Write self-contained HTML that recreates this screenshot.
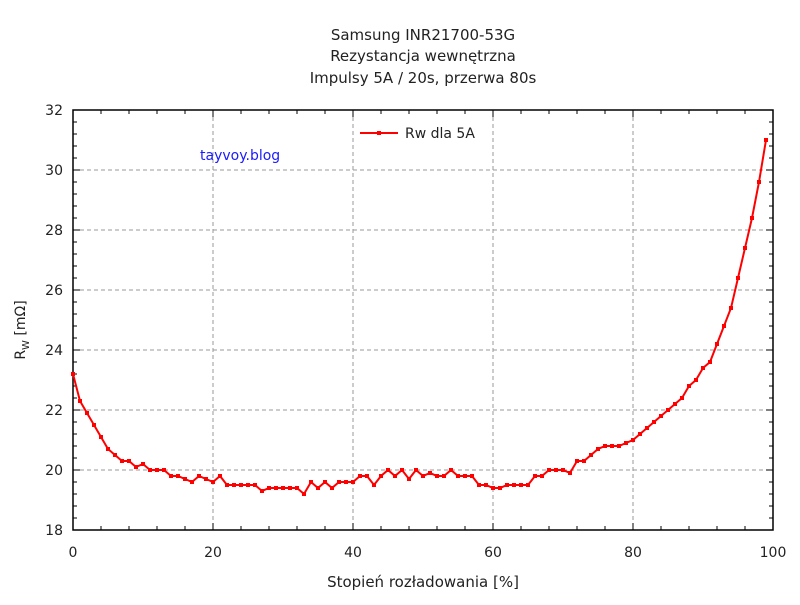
<!DOCTYPE html><html><head><style>body{margin:0;background:#fff}svg{font-family:"DejaVu Sans","Liberation Sans",sans-serif}</style></head><body>
<svg id="s" width="800" height="600" xmlns="http://www.w3.org/2000/svg">
<rect width="800" height="600" fill="#fff"/>
<g font-size="15" fill="#222" text-anchor="middle">
<text x="423" y="40">Samsung INR21700-53G</text>
<text x="423" y="61">Rezystancja wewnętrzna</text>
<text x="423" y="83">Impulsy 5A / 20s, przerwa 80s</text>
<text x="423" y="587">Stopień rozładowania [%]</text>
</g>
<text transform="translate(25,330) rotate(-90)" font-size="14" fill="#222" text-anchor="middle">R<tspan font-size="10" dy="4">W</tspan><tspan dy="-4"> [mΩ]</tspan></text>
<g id="grid" stroke="#999" stroke-dasharray="4,3" stroke-width="1"></g>
<g id="ticks" stroke="#000" stroke-width="1"></g>
<g id="lab" font-size="14" fill="#222"></g>
<rect x="73" y="110" width="700" height="420" fill="none" stroke="#000" stroke-width="1.5"/>
<text x="200" y="160" font-size="14" fill="#1a1aff">tayvoy.blog</text>
<line x1="360" y1="133" x2="398" y2="133" stroke="#f00" stroke-width="2"/>
<rect x="377" y="131" width="4" height="4" fill="#f00"/>
<text x="405" y="138" font-size="14" fill="#222">Rw dla 5A</text>
<polyline id="pl" fill="none" stroke="#f00" stroke-width="2"/>
<g id="mk" fill="#f00"></g>
</svg>
<script>
var d=[23.2,22.3,21.9,21.5,21.1,20.7,20.5,20.3,20.3,20.1,20.2,20.0,20.0,20.0,19.8,19.8,19.7,19.6,19.8,19.7,19.6,19.8,19.5,19.5,19.5,19.5,19.5,19.3,19.4,19.4,19.4,19.4,19.4,19.2,19.6,19.4,19.6,19.4,19.6,19.6,19.6,19.8,19.8,19.5,19.8,20.0,19.8,20.0,19.7,20.0,19.8,19.9,19.8,19.8,20.0,19.8,19.8,19.8,19.5,19.5,19.4,19.4,19.5,19.5,19.5,19.5,19.8,19.8,20.0,20.0,20.0,19.9,20.3,20.3,20.5,20.7,20.8,20.8,20.8,20.9,21.0,21.2,21.4,21.6,21.8,22.0,22.2,22.4,22.8,23.0,23.4,23.6,24.2,24.8,25.4,26.4,27.4,28.4,29.6,31.0];
var NS="http://www.w3.org/2000/svg";
function el(p,t,a,txt){var e=document.createElementNS(NS,t);for(var k in a)e.setAttribute(k,a[k]);if(txt!=null)e.textContent=txt;document.getElementById(p).appendChild(e);}
function X(v){return 73+7*v}function Y(v){return 530-30*(v-18)}
var pts=[];d.forEach(function(v,i){var x=X(i),y=Y(v);pts.push(x+","+y);el("mk","rect",{x:x-2,y:y-2,width:4,height:4});});
document.getElementById("pl").setAttribute("points",pts.join(" "));
for(var v=20;v<=30;v+=2)el("grid","line",{x1:73,x2:773,y1:Y(v),y2:Y(v)});
for(var v=20;v<=80;v+=20)el("grid","line",{x1:X(v),x2:X(v),y1:110,y2:530});
for(var v=18;v<=32;v+=2){el("ticks","line",{x1:73,x2:80,y1:Y(v),y2:Y(v)});el("ticks","line",{x1:766,x2:773,y1:Y(v),y2:Y(v)});el("lab","text",{x:63,y:Y(v)+5,"text-anchor":"end"},v);}
for(var v=18;v<32;v+=0.4){el("ticks","line",{x1:73,x2:77,y1:Y(v),y2:Y(v)});el("ticks","line",{x1:769,x2:773,y1:Y(v),y2:Y(v)});}
for(var v=0;v<=100;v+=20){el("ticks","line",{x1:X(v),x2:X(v),y1:523,y2:530});el("ticks","line",{x1:X(v),x2:X(v),y1:110,y2:117});el("lab","text",{x:X(v),y:557,"text-anchor":"middle"},v);}
for(var v=0;v<100;v+=4){el("ticks","line",{x1:X(v),x2:X(v),y1:526,y2:530});el("ticks","line",{x1:X(v),x2:X(v),y1:110,y2:114});}
</script>
</body></html>
